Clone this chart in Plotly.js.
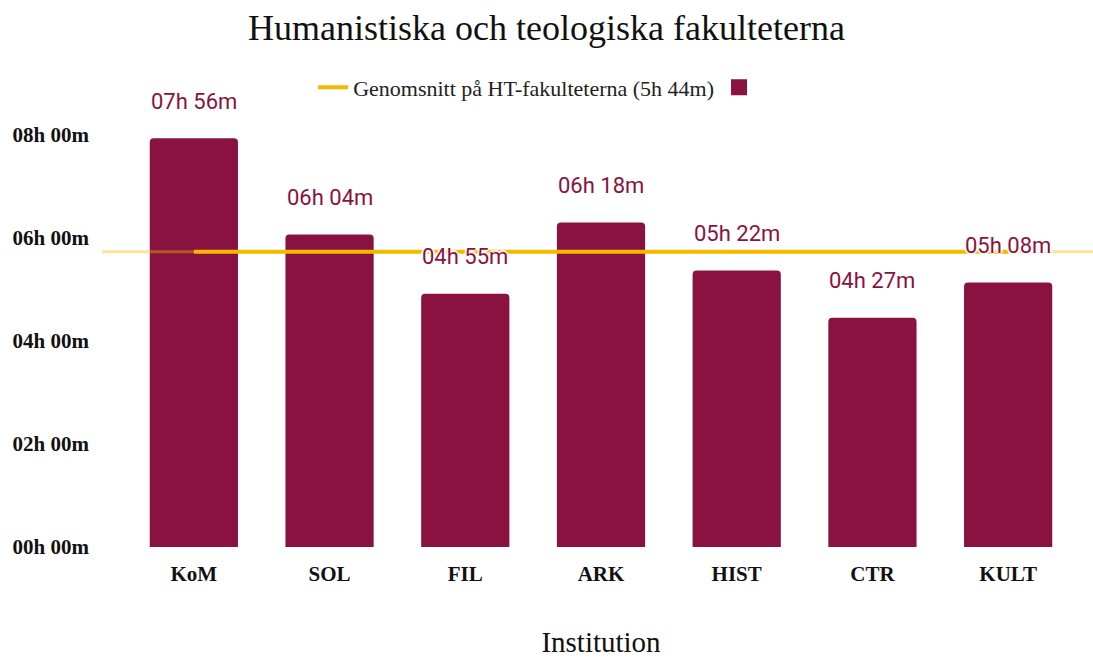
<!DOCTYPE html>
<html>
<head>
<meta charset="utf-8">
<script src="https://cdn.plot.ly/plotly-3.0.1.min.js"></script>
<style>
  html, body { margin: 0; padding: 0; background: #fff; }
  #myDiv { width: 1093px; height: 658px; }
</style>
</head>
<body>
<div id="myDiv"></div>
<script>
var institutions = ['KoM', 'SOL', 'FIL', 'ARK', 'HIST', 'CTR', 'KULT'];
var hours = [7, 6, 4, 6, 5, 4, 5];
var minutes = [56, 4, 55, 18, 22, 27, 8];
var avgHours = 5;
var avgMinutes = 44;
var tickHours = [0, 2, 4, 6, 8];

var maroon = '#8a1240';
var yellow = '#f5b800';
var serif = '"Liberation Serif", "DejaVu Serif", serif';

function pad(n) { return (n < 10 ? '0' : '') + n; }
function fmt(h, m) { return pad(h) + 'h ' + pad(m) + 'm'; }

var values = hours.map(function (h, i) { return h + minutes[i] / 60; });
var avg = avgHours + avgMinutes / 60;

var avgLine = {
  x: institutions,
  y: institutions.map(function () { return avg; }),
  type: 'scatter',
  mode: 'lines',
  name: 'Genomsnitt på HT-fakulteterna (' + avgHours + 'h ' + avgMinutes + 'm)',
  line: {color: yellow, width: 4},
  hoverinfo: 'skip'
};

// legend-only square for the bar series (bigger than the default bar swatch)
var barKey = {
  x: [null],
  y: [null],
  type: 'scatter',
  mode: 'markers',
  name: '',
  marker: {symbol: 'square', size: 16, color: maroon},
  hoverinfo: 'skip'
};

var bars = {
  x: institutions,
  y: values,
  type: 'bar',
  name: '',
  showlegend: false,
  marker: {color: maroon, cornerradius: 4},
  hoverinfo: 'skip'
};

var labels = institutions.map(function (inst, i) {
  return {
    x: inst,
    y: values[i],
    xref: 'x',
    yref: 'y',
    text: fmt(hours[i], minutes[i]),
    showarrow: false,
    yanchor: 'middle',
    yshift: 37,
    font: {family: 'Roboto, sans-serif', size: 22, color: maroon,
           shadow: '2px 0 1px #fff, -2px 0 1px #fff, 0 2px 1px #fff, 0 -2px 1px #fff'}
  };
});

var layout = {
  width: 1093,
  height: 658,
  margin: {l: 126, r: 17, t: 104, b: 111},
  paper_bgcolor: '#fff',
  plot_bgcolor: '#fff',
  title: {
    text: 'Humanistiska och teologiska fakulteterna',
    font: {family: serif, size: 36, color: '#111'},
    x: 0.5,
    xref: 'container',
    y: 0.958,
    yanchor: 'middle'
  },
  bargap: 0.35,
  showlegend: true,
  legend: {
    orientation: 'h',
    x: 0.197,
    xanchor: 'left',
    y: 0.99,
    yanchor: 'bottom',
    font: {family: serif, size: 22, color: '#222'},
    itemsizing: 'trace',
    traceorder: 'normal'
  },
  xaxis: {
    type: 'category',
    range: [-0.5, 6.5],
    showgrid: false,
    showline: false,
    zeroline: false,
    tickfont: {family: serif, size: 21, color: '#111', weight: 'bold'},
    ticklabelstandoff: 12,
    title: {text: 'Institution', font: {family: serif, size: 29, color: '#111'}, standoff: 54}
  },
  yaxis: {
    range: [0, 8.6],
    showgrid: false,
    showline: false,
    zeroline: false,
    tickvals: tickHours,
    ticktext: tickHours.map(function (h) { return fmt(h, 0); }),
    tickfont: {family: serif, size: 21, color: '#111', weight: 'bold'},
    ticklabelstandoff: 36
  },
  shapes: [{
    type: 'line',
    xref: 'paper',
    yref: 'y',
    x0: -0.025,
    x1: 1.02,
    y0: avg,
    y1: avg,
    layer: 'above',
    line: {color: 'rgba(245,184,0,0.4)', width: 3}
  }],
  annotations: labels
};

Plotly.newPlot('myDiv', [avgLine, bars, barKey], layout, {displayModeBar: false, staticPlot: true});
</script>
</body>
</html>
